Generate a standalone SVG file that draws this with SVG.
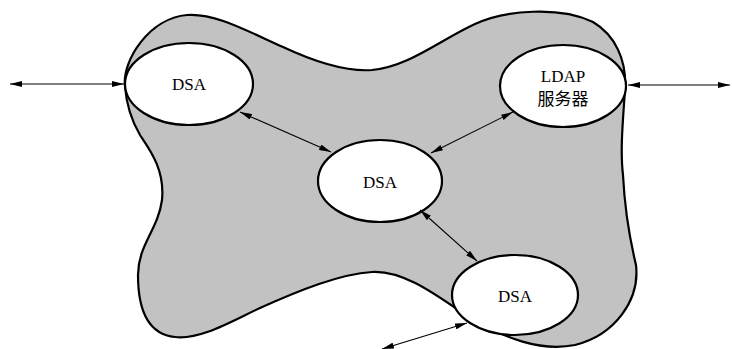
<svg xmlns="http://www.w3.org/2000/svg" width="732" height="349" viewBox="0 0 732 349">
<style>
.blob{fill:#c2c2c2;stroke:#000;stroke-width:2.2}
.node{fill:#fff;stroke:#000;stroke-width:2.2}
.lbl{font-family:"Liberation Serif","Noto Sans CJK SC",serif;font-size:17px;fill:#000;text-anchor:middle}
.edge{stroke:#000;stroke-width:1.1;fill:none;marker-start:url(#ah);marker-end:url(#ah)}
</style>
<defs>
<marker id="ah" viewBox="0 0 12 6" refX="12" refY="3" markerWidth="12" markerHeight="6" markerUnits="userSpaceOnUse" orient="auto-start-reverse">
<path d="M0,0 L12,3 L0,6 Z" fill="#000"/>
</marker>
</defs>
<path class="blob" d="M125,86 C122,60 150,18 187,15 C215,13 245,30 283,47 C315,62 345,72 372,70 C410,66 440,40 475,24 C505,10 560,6 593,22 C615,35 627,60 625,90 C623,120 620,150 623,175 C625,215 630,240 636,265 C640,300 615,335 575,345 C540,352 505,338 470,318 C440,298 405,270 372,272 C340,274 300,290 260,308 C230,322 200,340 175,337 C145,334 138,305 138,275 C138,245 158,230 162,200 C165,170 150,150 140,135 C130,118 126,100 125,86 Z"/>
<g id="dsa1"><ellipse class="node" cx="189" cy="84" rx="64" ry="41"/><text class="lbl" x="189" y="90">DSA</text></g>
<g id="ldap"><ellipse class="node" cx="563" cy="86" rx="63" ry="41"/><text class="lbl" x="563" y="82">LDAP</text><text class="lbl" x="563" y="105">服务器</text></g>
<g id="dsa2"><ellipse class="node" cx="380" cy="181" rx="62" ry="41"/><text class="lbl" x="380" y="188">DSA</text></g>
<g id="dsa3"><ellipse class="node" cx="515" cy="295" rx="63" ry="40"/><text class="lbl" x="515" y="302">DSA</text></g>
<g id="connectors">
<line class="edge" x1="10" y1="84" x2="124" y2="84"/>
<line class="edge" x1="628" y1="85" x2="730" y2="85"/>
<line class="edge" x1="240" y1="112" x2="331" y2="152"/>
<line class="edge" x1="513" y1="112" x2="431" y2="153"/>
<line class="edge" x1="420" y1="210" x2="477" y2="261"/>
<line class="edge" x1="382" y1="349" x2="467" y2="323"/>
</g>
</svg>
